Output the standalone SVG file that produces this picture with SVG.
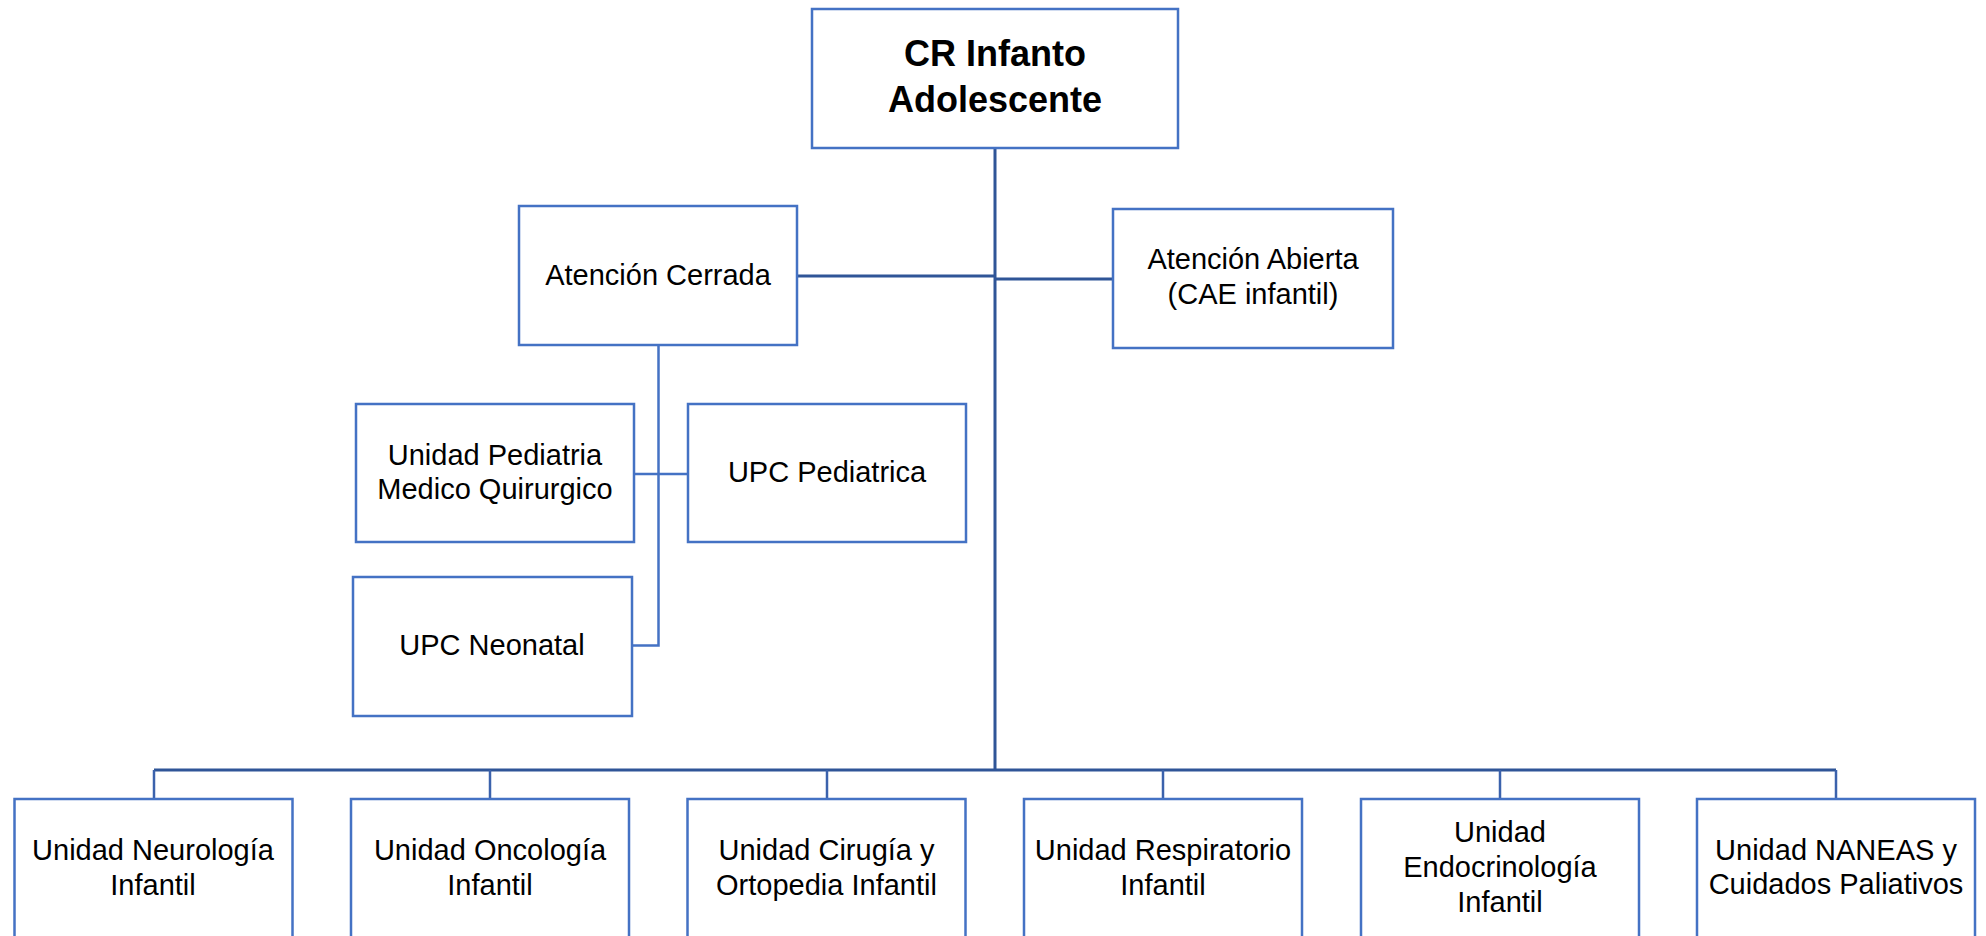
<svg xmlns="http://www.w3.org/2000/svg" width="1986" height="936" viewBox="0 0 1986 936">
<style>
.box{fill:#fff;stroke:#4472C4;stroke-width:2.5}
.t{font-family:"Liberation Sans",Arial,sans-serif;font-size:29px;fill:#000;text-anchor:middle}
.tb{font-family:"Liberation Sans",Arial,sans-serif;font-size:36px;font-weight:bold;fill:#000;text-anchor:middle}
.main{fill:none;stroke:#2F5597;stroke-width:3}
.sub{fill:none;stroke:#4472C4;stroke-width:2.5}
.drop{fill:none;stroke:#3B62AC;stroke-width:2.5}
</style>
<rect width="1986" height="936" fill="#fff"/>
<g id="connectors">
<line class="main" x1="995" y1="148" x2="995" y2="770"/>
<line class="main" x1="797" y1="276" x2="995" y2="276"/>
<line class="main" x1="995" y1="279" x2="1113" y2="279"/>
<line class="main" x1="154" y1="770" x2="1836" y2="770"/>
<polyline class="sub" points="658.5,345 658.5,645.5 632,645.5"/>
<line class="sub" x1="634" y1="474" x2="688" y2="474"/>
<line class="drop" x1="154" y1="770" x2="154" y2="799"/>
<line class="drop" x1="490" y1="770" x2="490" y2="799"/>
<line class="drop" x1="827" y1="770" x2="827" y2="799"/>
<line class="drop" x1="1163" y1="770" x2="1163" y2="799"/>
<line class="drop" x1="1500" y1="770" x2="1500" y2="799"/>
<line class="drop" x1="1836" y1="770" x2="1836" y2="799"/>
</g>
<g id="n-root">
<rect class="box" x="812" y="9" width="366" height="139"/>
<text class="tb" x="995" y="66">CR Infanto</text>
<text class="tb" x="995" y="112">Adolescente</text>
</g>
<g id="n-cerrada">
<rect class="box" x="519" y="206" width="278" height="139"/>
<text class="t" x="658" y="285">Atención Cerrada</text>
</g>
<g id="n-abierta">
<rect class="box" x="1113" y="209" width="280" height="139"/>
<text class="t" x="1253" y="269">Atención Abierta</text>
<text class="t" x="1253" y="304">(CAE infantil)</text>
</g>
<g id="n-pediatria">
<rect class="box" x="356" y="404" width="278" height="138"/>
<text class="t" x="495" y="465">Unidad Pediatria</text>
<text class="t" x="495" y="499">Medico Quirurgico</text>
</g>
<g id="n-upcped">
<rect class="box" x="688" y="404" width="278" height="138"/>
<text class="t" x="827" y="482">UPC Pediatrica</text>
</g>
<g id="n-neonatal">
<rect class="box" x="353" y="577" width="279" height="139"/>
<text class="t" x="492" y="655">UPC Neonatal</text>
</g>
<g id="n-neuro">
<rect class="box" x="14.5" y="799" width="278" height="160"/>
<text class="t" x="153" y="860">Unidad Neurología</text>
<text class="t" x="153" y="895">Infantil</text>
</g>
<g id="n-onco">
<rect class="box" x="351" y="799" width="278" height="160"/>
<text class="t" x="490" y="860">Unidad Oncología</text>
<text class="t" x="490" y="895">Infantil</text>
</g>
<g id="n-cirugia">
<rect class="box" x="687.5" y="799" width="278" height="160"/>
<text class="t" x="826.5" y="860">Unidad Cirugía y</text>
<text class="t" x="826.5" y="895">Ortopedia Infantil</text>
</g>
<g id="n-resp">
<rect class="box" x="1024" y="799" width="278" height="160"/>
<text class="t" x="1163" y="860">Unidad Respiratorio</text>
<text class="t" x="1163" y="895">Infantil</text>
</g>
<g id="n-endo">
<rect class="box" x="1361" y="799" width="278" height="160"/>
<text class="t" x="1500" y="842">Unidad</text>
<text class="t" x="1500" y="877">Endocrinología</text>
<text class="t" x="1500" y="912">Infantil</text>
</g>
<g id="n-naneas">
<rect class="box" x="1697" y="799" width="278" height="160"/>
<text class="t" x="1836" y="860">Unidad NANEAS y</text>
<text class="t" x="1836" y="894">Cuidados Paliativos</text>
</g>
</svg>
